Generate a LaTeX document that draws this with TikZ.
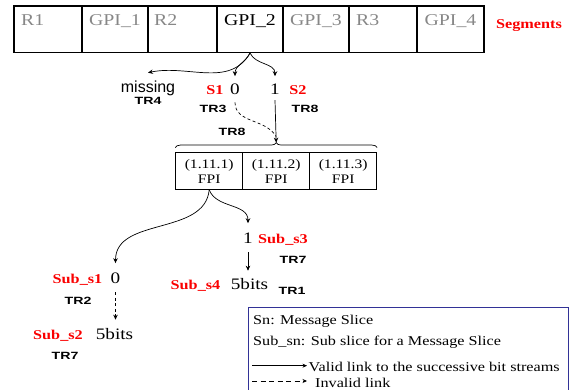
\documentclass[tikz,border=0pt]{standalone}
\usepackage{fontspec}
\setmainfont{Liberation Serif}[FakeStretch=1.2]
\newfontfamily\arialf{Liberation Sans}
\newfontfamily\trf{Liberation Sans}[FakeStretch=1.35]
\usetikzlibrary{arrows.meta,decorations.pathreplacing}
\definecolor{seggray}{RGB}{135,135,135}
\definecolor{legblue}{RGB}{50,50,150}
\definecolor{lblred}{RGB}{250,0,0}
\begin{document}
\begin{tikzpicture}[x=1pt,y=1pt,
  segbox/.style={draw, line width=1.1pt, minimum height=46.5pt, inner sep=0pt},
  segtxt/.style={font=\fontsize{16.5}{18}\selectfont, text=seggray, inner sep=0pt},
  rlab/.style={font=\fontsize{13.5}{15}\selectfont\bfseries, text=lblred, inner sep=0pt, anchor=base},
  dig/.style={font=\fontsize{16}{18}\selectfont, inner sep=0pt, anchor=base},
  trlab/.style={font=\trf\bfseries\fontsize{10.5}{12}\selectfont, inner sep=0pt, anchor=base},
  fpibox/.style={draw, line width=0.9pt, minimum width=67pt, minimum height=36.5pt, inner sep=0pt, align=center, font=\fontsize{13}{15}\selectfont},
  arr/.style={-{Stealth[length=5pt,width=4.5pt]}, line width=0.7pt},
  dsh/.style={dash pattern=on 3pt off 2.5pt, line width=0.7pt},
  legtxt/.style={font=\fontsize{13.5}{15}\selectfont, inner sep=0pt, anchor=base west},
  legarr/.style={-{Stealth[length=4.5pt,width=4pt]}, line width=0.7pt}
]
\useasboundingbox (0,0) rectangle (571,390);

% segments
\node[segbox, minimum width=68pt] (s1) at (48,360.75) {};
\node[segbox, minimum width=66pt] (s2) at (115,360.75) {};
\node[segbox, minimum width=69pt] (s3) at (182.5,360.75) {};
\node[segbox, minimum width=66pt] (s4) at (250,360.75) {};
\node[segbox, minimum width=66pt] (s5) at (316,360.75) {};
\node[segbox, minimum width=68pt] (s6) at (383,360.75) {};
\node[segbox, minimum width=67pt] (s7) at (450.5,360.75) {};
\node[segtxt, anchor=base west] (tR1) at (21,364) {R1};
\node[segtxt, anchor=base] (tG1) at (115,364) {GPI\_1};
\node[segtxt, anchor=base west] (tR2) at (154,364) {R2};
\node[segtxt, anchor=base, text=black] (tG2) at (250,364) {GPI\_2};
\node[segtxt, anchor=base] (tG3) at (316,364) {GPI\_3};
\node[segtxt, anchor=base west] (tR3) at (356,364) {R3};
\node[segtxt, anchor=base] (tG4) at (450.5,364) {GPI\_4};
\node[rlab] (seglab) at (529,361) {Segments};

% level 1
\node[font=\arialf\fontsize{16}{18}\selectfont, inner sep=0pt, anchor=base] (miss) at (148,297.5) {missing};
\node[trlab] (tr4) at (148,285) {TR4};
\node[rlab] (sl1) at (215,295) {S1};
\node[dig] (z1) at (235,295) {0};
\node[dig] (o1) at (275,295) {1};
\node[rlab] (sl2) at (298,295) {S2};
\node[trlab] (tr3) at (213,277.3) {TR3};
\node[trlab] (tr8a) at (305,277.3) {TR8};
\node[trlab] (tr8b) at (232,254) {TR8};

% FPI boxes
\node[fpibox] (f1) at (209.2,219) {(1.11.1)\\FPI};
\node[fpibox] (f2) at (276.2,219) {(1.11.2)\\FPI};
\node[fpibox] (f3) at (343.2,219) {(1.11.3)\\FPI};
\draw[line width=0.7pt, decorate, decoration={brace, amplitude=5pt}] ([yshift=4.7pt]f1.north west) -- ([yshift=4.7pt]f3.north east);
\coordinate (btip) at ([yshift=9.7pt]f2.north);

\draw[arr] (s4.south) to[out=-120,in=12] ([yshift=8pt]miss.north);
\draw[arr] (s4.south) to[out=-115,in=90] ([yshift=8pt]z1.north);
\draw[arr] (s4.south) to[out=-65,in=90] ([yshift=8pt]o1.north);
\draw[arr] ([yshift=-5pt]o1.south) -- (btip);
\draw[dsh] ([yshift=-7pt]z1.south) to[out=-90,in=120] ([yshift=6pt]btip);

% level 2
\node[dig] (z2) at (115.5,106) {0};
\node[rlab] (ss1) at (77.5,106) {Sub\_s1};
\node[trlab] (tr2) at (78,85) {TR2};
\node[dig] (b1) at (114.5,50) {5bits};
\node[rlab] (ss2) at (58,50) {Sub\_s2};
\node[trlab] (tr7a) at (65,30) {TR7};
\node[dig] (o2) at (248,146) {1};
\node[rlab] (ss3) at (283,146) {Sub\_s3};
\node[trlab] (tr7b) at (293,126.7) {TR7};
\node[dig] (b2) at (249.5,100) {5bits};
\node[rlab] (ss4) at (195.5,100) {Sub\_s4};
\node[trlab] (tr1) at (292,95) {TR1};

\draw[arr] (f1.south) to[out=-95,in=90] ([yshift=10pt]z2.north);
\draw[arr] (f1.south) to[out=-70,in=90] ([yshift=10pt]o2.north);
\coordinate (o2a) at ([yshift=-8pt]o2.south);
\draw[arr, shorten >=8pt] (o2a) -- (o2a |- b2.north);
\coordinate (z2a) at ([yshift=-8pt]z2.south);
\draw[arr, dsh, shorten >=9pt] (z2a) -- (z2a |- b1.north);

% legend
\draw[legblue, line width=0.9pt] (248.5,0) -- (248.5,83) -- (568.5,83) -- (568.5,0);
\node[legtxt] (l1) at (253,65) {Sn: Message Slice};
\node[legtxt] (l2) at (253,44.3) {Sub\_sn: Sub slice for a Message Slice};
\node[legtxt] (l3) at (308.5,18.5) {Valid link to the successive bit streams};
\node[legtxt] (l4) at (315,2.7) {Invalid link};
\coordinate (v0) at (252,24.3);
\coordinate (i0) at (252,9);
\draw[legarr, shorten >=1.5pt] (v0) -- (v0 -| l3.west);
\draw[legarr, dash pattern=on 5pt off 3.5pt, shorten >=8pt] (i0) -- (i0 -| l4.west);
\end{tikzpicture}
\end{document}
